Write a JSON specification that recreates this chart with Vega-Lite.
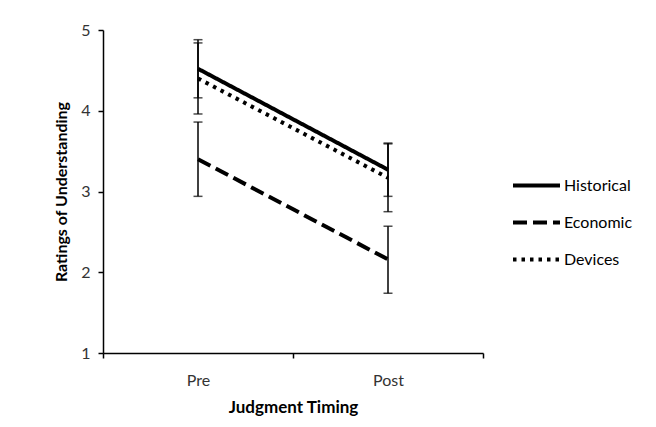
{
  "$schema": "https://vega.github.io/schema/vega-lite/v6.json",
  "width": 380,
  "height": 323,
  "autosize": {"type": "none"},
  "padding": {"left": 103, "top": 30, "right": 173, "bottom": 74},
  "background": "white",
  "config": {
    "font": "Lato",
    "view": {"stroke": null},
    "axis": {"grid": false, "domainColor": "#000", "tickColor": "#000", "domainWidth": 1.5, "tickWidth": 1.5, "labelColor": "#333", "labelFont": "Lato", "titleFont": "Lato", "titleColor": "#000"}
  },
  "data": {
    "values": [
      {"timing": "Pre", "type": "Historical", "mean": 4.52, "lo": 4.16, "hi": 4.88},
      {"timing": "Post", "type": "Historical", "mean": 3.27, "lo": 2.94, "hi": 3.60},
      {"timing": "Pre", "type": "Economic", "mean": 3.40, "lo": 2.94, "hi": 3.86},
      {"timing": "Post", "type": "Economic", "mean": 2.16, "lo": 1.74, "hi": 2.57},
      {"timing": "Pre", "type": "Devices", "mean": 4.40, "lo": 3.96, "hi": 4.84},
      {"timing": "Post", "type": "Devices", "mean": 3.17, "lo": 2.75, "hi": 3.59}
    ]
  },
  "encoding": {
    "x": {
      "field": "timing", "type": "nominal", "sort": ["Pre", "Post"],
      "scale": {"paddingInner": 0, "paddingOuter": 0},
      "axis": {"title": "Judgment Timing", "labelAngle": 0, "tickBand": "extent", "tickSize": 5, "labelPadding": 14, "labelFontSize": 16, "titleFontSize": 17, "titleFontWeight": "bold", "titlePadding": 11}
    }
  },
  "layer": [
    {
      "mark": {"type": "rule", "color": "#000", "strokeWidth": 1.5},
      "encoding": {
        "y": {"field": "lo", "type": "quantitative"},
        "y2": {"field": "hi"}
      }
    },
    {
      "mark": {"type": "tick", "color": "#000", "size": 9, "thickness": 1.5},
      "encoding": {"y": {"field": "lo", "type": "quantitative"}}
    },
    {
      "mark": {"type": "tick", "color": "#000", "size": 9, "thickness": 1.5},
      "encoding": {"y": {"field": "hi", "type": "quantitative"}}
    },
    {
      "mark": {"type": "line", "color": "#000"},
      "encoding": {
        "y": {
          "field": "mean", "type": "quantitative",
          "scale": {"domain": [1, 5], "nice": false, "zero": false},
          "axis": {"title": "Ratings of Understanding", "values": [1, 2, 3, 4, 5], "format": "d", "tickSize": 5, "labelPadding": 8, "labelFontSize": 16, "titleFontSize": 16, "titleFontWeight": "bold", "titlePadding": 11}
        },
        "strokeDash": {
          "field": "type", "type": "nominal",
          "scale": {"domain": ["Historical", "Economic", "Devices"], "range": [[1, 0], [14, 6], [3.5, 5]]},
          "legend": {"title": null, "orient": "none", "legendX": 408, "legendY": 130, "symbolType": "stroke", "symbolSize": 2209, "symbolStrokeColor": "#000", "labelFontSize": 16, "labelColor": "#000", "labelOffset": 2, "rowPadding": 3}
        },
        "strokeWidth": {
          "field": "type", "type": "nominal",
          "scale": {"domain": ["Historical", "Economic", "Devices"], "range": [4, 4, 3.5]},
          "legend": {"title": null, "orient": "none", "legendX": 408, "legendY": 130, "symbolType": "stroke", "symbolSize": 2209, "symbolStrokeColor": "#000", "labelFontSize": 16, "labelColor": "#000", "labelOffset": 2, "rowPadding": 3}
        },
        "detail": {"field": "type"}
      }
    }
  ]
}
